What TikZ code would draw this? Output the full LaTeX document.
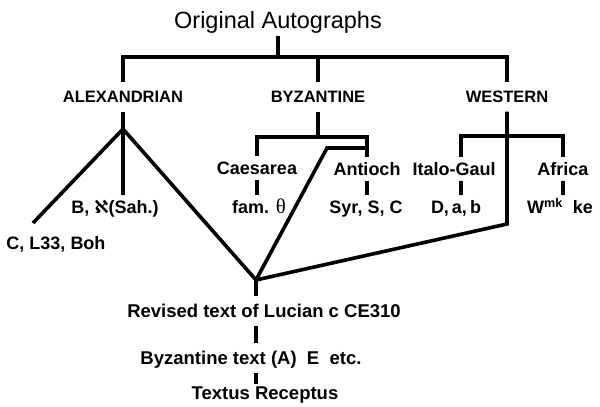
\documentclass[tikz,border=0pt]{standalone}
\usepackage{fontspec}
\setmainfont{Liberation Sans}
\newfontfamily\alephfont{DejaVu Sans}
\newfontfamily\thetafont{Liberation Serif}
\usetikzlibrary{positioning}

\begin{document}
\begin{tikzpicture}[x=1pt,y=-1pt,
    head/.style={font=\fontsize{23.5}{23.5}\selectfont,text height=16.8pt,text depth=0pt,inner xsep=0pt,inner ysep=7pt},
    group/.style={font=\bfseries\fontsize{16.5}{16.5}\selectfont,text height=11.8pt,text depth=0pt,inner xsep=0pt,inner ysep=8.5pt},
    leaf/.style={font=\bfseries\fontsize{18}{18}\selectfont,text height=12.9pt,text depth=0pt,inner xsep=0pt,inner ysep=5.5pt},
    line/.style={font=\bfseries\fontsize{18.5}{18.5}\selectfont,text height=13.2pt,text depth=0pt,inner xsep=0pt,inner ysep=8.5pt},
    link/.style={line width=3.6pt,black}]
    \useasboundingbox (0,0) rectangle (600,407);
    % top level
    \node[head] (orig) at (278,20.5) {Original Autographs};
    \node[group] (alex) at (123,97) {ALEXANDRIAN};
    \node[group] (byz) at (318,97) {BYZANTINE};
    \node[group] (west) at (507,97) {WESTERN};
    % second level
    \node[leaf] (caes) at (257,168) {Caesarea};
    \node[leaf] (ant) at (367,169) {Antioch};
    \node[leaf] (italo) at (454,169) {Italo-Gaul};
    \node[leaf] (afr) at (563,169) {Africa};
    \node[leaf] (bsah) at (115,207) {B, {\alephfont ℵ}(Sah.)};
    \node[leaf] (fam) at (259,207) {fam. {\thetafont\mdseries\fontsize{21}{21}\selectfont θ}};
    \node[leaf] (syr) at (366,207) {Syr, S, C};
    \node[leaf] (dab) at (456,207) {D,\,a,\,b};
    \node[leaf] (wmk) at (560,207) {W\textsuperscript{mk}\ \ ke};
    \node[leaf] (clb) at (56,243) {C, L33, Boh};
    % Lucian line
    \node[line] (lucian) at (264,311) {Revised text of Lucian c CE310};
    \node[line] (byzt) at (251,358) {Byzantine text (A)\ \ E\ \ etc.};
    \node[line,inner ysep=2pt] (textus) at (265,393) {Textus Receptus};
    \coordinate (topbar) at (278,57);
    \coordinate (afork) at (123,129);
    \coordinate (aleft) at (33,223);
    \coordinate (lfork) at (256,280);
    \coordinate (bbar) at (318,137);
    \coordinate (ajoin) at (327,148);
    \coordinate (wbar) at (507,136);
    \coordinate (wbend) at (507,224);
    \coordinate (wdrop) at (461,0);
    % connectors
    \draw[link] (orig.south) -- (topbar);
    \draw[link] (alex.north) |- (topbar) -| (west.north);
    \draw[link] (byz.north) -- (byz.north |- topbar);
    \draw[link] (alex.south) -- (afork);
    \draw[link] (afork) -- (afork |- bsah.north);
    \draw[link] (afork) -- (aleft);
    \draw[link] (afork) -- (lfork);
    \draw[link] (byz.south) -- (bbar);
    \draw[link] (caes.north) |- (bbar) -| (ant.north);
    \draw[link] (caes.south) -- (caes.south |- fam.north);
    \draw[link] (ant.south) -- (ant.south |- syr.north);
    \draw[link] (lfork) -- (ajoin) -- (ajoin -| ant.north);
    \draw[link] (west.south) -- (wbend) -- (lfork);
    \draw[link] (wdrop |- italo.north) |- (wbar) -| (afr.north);
    \draw[link] (wdrop |- italo.south) -- (wdrop |- dab.north);
    \draw[link] (afr.south) -- (afr.south |- wmk.north);
    \draw[link] (lfork) -- (lfork |- lucian.north);
    \draw[link] (lfork |- lucian.south) -- (lfork |- byzt.north);
    \draw[link] (lfork |- byzt.south) -- (lfork |- textus.north);
  \end{tikzpicture}
\end{document}
